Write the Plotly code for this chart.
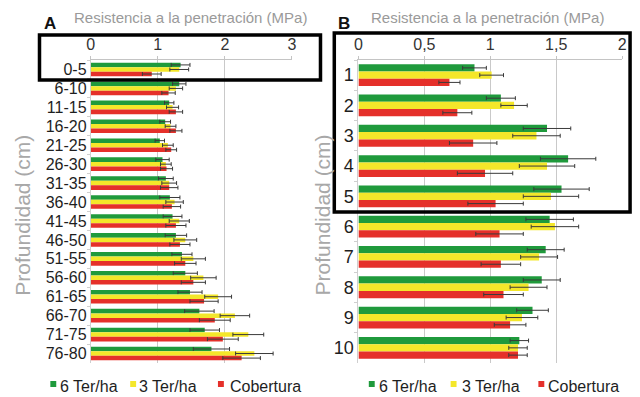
import plotly.graph_objects as go

W, H = 640, 397

# ---- Panel A: depth intervals (cm) ----
depth_a = ["0-5", "6-10", "11-15", "16-20", "21-25", "26-30", "31-35", "36-40",
           "41-45", "46-50", "51-55", "56-60", "61-65", "66-70", "71-75", "76-80"]
a_ter6 = [1.34, 1.32, 1.17, 1.11, 1.03, 1.07, 1.12, 1.18, 1.22, 1.27, 1.36, 1.41, 1.48, 1.62, 1.70, 1.80]
a_ter6_err = [0.14, 0.10, 0.07, 0.08, 0.07, 0.10, 0.11, 0.15, 0.14, 0.16, 0.15, 0.18, 0.18, 0.22, 0.22, 0.27]
a_ter3 = [1.32, 1.27, 1.22, 1.19, 1.15, 1.12, 1.17, 1.25, 1.32, 1.41, 1.53, 1.68, 1.90, 2.15, 2.35, 2.44]
a_ter3_err = [0.14, 0.10, 0.09, 0.08, 0.08, 0.08, 0.11, 0.13, 0.15, 0.17, 0.18, 0.19, 0.20, 0.22, 0.23, 0.28]
a_cob = [0.91, 1.16, 1.27, 1.27, 1.20, 1.13, 1.17, 1.21, 1.27, 1.33, 1.41, 1.53, 1.69, 1.85, 1.97, 2.25]
a_cob_err = [0.14, 0.10, 0.10, 0.09, 0.08, 0.09, 0.13, 0.13, 0.15, 0.15, 0.16, 0.18, 0.21, 0.23, 0.23, 0.28]

# ---- Panel B: depth (cm) ----
depth_b = ["1", "2", "3", "4", "5", "6", "7", "8", "9", "10"]
b_ter6 = [0.88, 1.08, 1.43, 1.59, 1.54, 1.45, 1.42, 1.39, 1.32, 1.22]
b_ter6_err = [0.09, 0.11, 0.18, 0.21, 0.21, 0.18, 0.14, 0.14, 0.12, 0.07]
b_ter3 = [1.01, 1.18, 1.35, 1.43, 1.46, 1.49, 1.37, 1.29, 1.24, 1.21]
b_ter3_err = [0.09, 0.10, 0.18, 0.21, 0.21, 0.18, 0.14, 0.14, 0.12, 0.07]
b_cob = [0.69, 0.75, 0.87, 0.96, 1.04, 1.07, 1.08, 1.10, 1.15, 1.21]
b_cob_err = [0.08, 0.11, 0.18, 0.21, 0.21, 0.18, 0.15, 0.15, 0.12, 0.07]

series_names = ["6 Ter/ha", "3 Ter/ha", "Cobertura"]
colors = ["#1f9a3c", "#f4e72a", "#e5302a"]

FONT = "Liberation Sans, Arial, sans-serif"


def px(x):
    return x / W


def py(y):
    return 1 - y / H


fig = go.Figure()

panels = [
    (depth_a, [(a_ter6, a_ter6_err), (a_ter3, a_ter3_err), (a_cob, a_cob_err)], "x", "y"),
    (depth_b, [(b_ter6, b_ter6_err), (b_ter3, b_ter3_err), (b_cob, b_cob_err)], "x2", "y2"),
]
for cats, series, xa, ya in panels:
    for (vals, errs), name, col in zip(series, series_names, colors):
        fig.add_trace(go.Bar(
            y=cats, x=vals, orientation="h", name=name,
            marker=dict(color=col, line=dict(width=0)),
            error_x=dict(type="data", array=errs, color="#3a3a3a", thickness=1, width=2),
            xaxis=xa, yaxis=ya, showlegend=False,
        ))

common_x = dict(side="top", showgrid=True, gridcolor="#c9c9c9", gridwidth=1,
                zeroline=False, showline=True, linecolor="#c4c4c4", linewidth=1,
                ticks="outside", ticklen=3, tickcolor="#c4c4c4",
                tickfont=dict(family=FONT, size=16, color="#333333"))
common_y = dict(type="category", autorange="reversed", showline=True, linecolor="#cfcfcf",
                ticks="outside", ticklen=3, tickcolor="#cfcfcf", tickson="boundaries",
                showgrid=False)

fig.update_layout(
    width=W, height=H,
    margin=dict(l=0, r=0, t=0, b=0),
    paper_bgcolor="white", plot_bgcolor="white",
    barmode="group", bargap=0.28, bargroupgap=0,
    separators=",.",
    xaxis=dict(domain=[px(88), px(292)], range=[0, 3.0], dtick=1, anchor="y", **common_x),
    yaxis=dict(domain=[py(363), py(60)], anchor="x", tickmode="array",
               tickvals=depth_a, ticktext=depth_a,
               tickfont=dict(family=FONT, size=16, color="#1e1e1e"), **common_y),
    xaxis2=dict(domain=[px(359.5), px(627)], range=[0, 2.0], dtick=0.5, anchor="y2", **common_x),
    yaxis2=dict(domain=[py(363), py(60)], anchor="x2", tickmode="array",
                tickvals=depth_b, ticktext=depth_b,
                tickfont=dict(family=FONT, size=18, color="#1e1e1e"), **common_y),
)

annotations = []
# axis titles
for cx in (189, 490):
    annotations.append(dict(text="Resistencia a la penetración (MPa)", x=px(cx), y=py(17),
                            xref="paper", yref="paper", showarrow=False,
                            xanchor="center", yanchor="middle",
                            font=dict(family=FONT, size=15, color="#9a9a9a")))
for cx in (18, 323):
    annotations.append(dict(text="Profundidad (cm)", x=px(cx), y=py(215),
                            xref="paper", yref="paper", showarrow=False, textangle=-90,
                            xanchor="center", yanchor="middle",
                            font=dict(family=FONT, size=21, color="#a8a8a8")))
# panel letters
for letter, lx in (("A", 47), ("B", 345)):
    annotations.append(dict(text="<b>%s</b>" % letter, x=px(lx), y=py(23),
                            xref="paper", yref="paper", showarrow=False,
                            xanchor="center", yanchor="middle",
                            font=dict(family=FONT, size=17, color="#111111")))

shapes = []
# legends (square swatch + label)
legend_rows = [
    [(47, 55), (128, 135), (217, 227)],
    [(370, 378), (453, 463), (542, 550)],
]
for row in legend_rows:
    for (sx, tx), name, col in zip(row, series_names, colors):
        shapes.append(dict(type="rect", xref="paper", yref="paper",
                           x0=px(sx), x1=px(sx + 6), y0=py(387), y1=py(381),
                           fillcolor=col, line=dict(width=0)))
        annotations.append(dict(text=name, x=px(tx), y=py(386.5),
                                xref="paper", yref="paper", showarrow=False,
                                xanchor="left", yanchor="middle",
                                font=dict(family=FONT, size=16, color="#1e1e1e")))

# highlight frames
shapes.append(dict(type="rect", xref="paper", yref="paper", layer="above",
                   x0=px(36), x1=px(321), y0=py(80), y1=py(35),
                   line=dict(color="black", width=3.5)))
shapes.append(dict(type="rect", xref="paper", yref="paper", layer="above",
                   x0=px(335), x1=px(635), y0=py(212), y1=py(33),
                   line=dict(color="black", width=3.5)))

fig.update_layout(annotations=annotations, shapes=shapes)

fig.write_html("out.html")
